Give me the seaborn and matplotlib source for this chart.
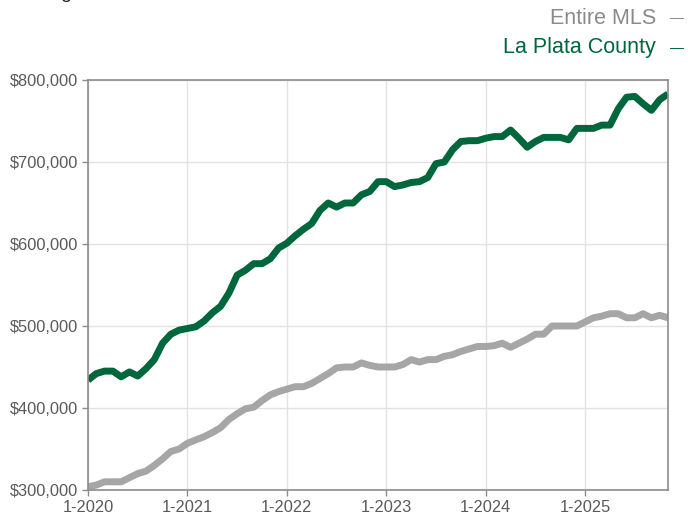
import matplotlib
matplotlib.use("Agg")
import matplotlib.pyplot as plt
import seaborn as sns
import pandas as pd
from matplotlib.ticker import FuncFormatter

# Monthly values, Jan 2020 .. Nov 2025 (in $)
months = pd.date_range("2020-01-01", periods=71, freq="MS")

la_plata = [434, 442, 445, 445, 438, 444, 439, 448, 459, 479, 490, 495,
            497, 499, 506, 516, 524, 540, 562, 568, 576, 576, 582, 595,
            601, 610, 618, 625, 641, 650, 645, 650, 650, 660, 664, 676,
            676, 670, 672, 675, 676, 681, 698, 700, 715, 725, 726, 726,
            729, 731, 731, 739, 729, 718, 725, 730, 730, 730, 727, 741,
            741, 741, 745, 745, 765, 779, 780, 771, 763, 776, 783]

entire_mls = [304, 306, 310, 310, 310, 315, 320, 323, 330, 338, 347, 350,
              357, 361, 365, 370, 376, 386, 393, 399, 401, 409, 416, 420,
              423, 426, 426, 430, 436, 442, 449, 450, 450, 455, 452, 450,
              450, 450, 453, 459, 456, 459, 459, 463, 465, 469, 472, 475,
              475, 476, 479, 474, 479, 484, 490, 490, 500, 500, 500, 500,
              505, 510, 512, 515, 515, 510, 510, 515, 510, 513, 510]

year_ticks = [0, 12, 24, 36, 48, 60]
year_labels = ["1-2020", "1-2021", "1-2022", "1-2023", "1-2024", "1-2025"]
y_ticks = [300000, 400000, 500000, 600000, 700000, 800000]

GREEN = "#00673C"
GRAY = "#A6A6A6"

df = pd.DataFrame({
    "idx": list(range(len(months))) * 2,
    "value": [v * 1000 for v in entire_mls] + [v * 1000 for v in la_plata],
    "series": ["Entire MLS"] * len(months) + ["La Plata County"] * len(months),
})

sns.set_theme(style="white")
plt.rcParams["font.family"] = ["Liberation Sans", "DejaVu Sans"]

fig = plt.figure(figsize=(6.88, 5.18), dpi=100)
ax = fig.add_axes([88 / 688, 1 - 490 / 518, 580 / 688, 410 / 518])

sns.lineplot(data=df, x="idx", y="value", hue="series",
             palette={"Entire MLS": GRAY, "La Plata County": GREEN},
             linewidth=5, ax=ax, legend=False, solid_capstyle="butt",
             solid_joinstyle="round")

ax.set_xlim(0, len(months) - 1)
ax.set_ylim(300000, 800000)
ax.set_xticks(year_ticks)
ax.set_xticklabels(year_labels)
ax.set_yticks(y_ticks)
ax.yaxis.set_major_formatter(FuncFormatter(lambda v, p: f"${v:,.0f}"))
ax.set_xlabel("")
ax.set_ylabel("")

ax.grid(True, color="#E2E2E2", linewidth=1)
ax.set_axisbelow(True)
for s in ax.spines.values():
    s.set_color("#8C8C8C")
    s.set_linewidth(1.2)
ax.tick_params(axis="both", which="major", length=4, width=1, color="#8C8C8C",
               labelsize=11.8, labelcolor="#5A5A5A", pad=3, direction="out",
               bottom=True, left=True)

# legend as right-aligned texts
fig.text(656 / 688, 1 - 18 / 518, "Entire MLS", ha="right", va="center",
         fontsize=15.5, color="#8A8A8A")
fig.text(670 / 688, 1 - 18 / 518, "—", ha="left", va="center",
         fontsize=10, color="#8A8A8A")
fig.text(656 / 688, 1 - 48 / 518, "La Plata County", ha="right", va="center",
         fontsize=15.5, color=GREEN)
fig.text(670 / 688, 1 - 48 / 518, "—", ha="left", va="center",
         fontsize=10, color=GREEN)

# clipped header line at very top (as in the reference)
fig.text(12 / 688, 1 + 2 / 518, "Rolling", ha="left", va="baseline",
         fontsize=14, color="#222222")
fig.text(140 / 688, 1 + 1 / 518, "12-Month Calculation", ha="left", va="baseline",
         fontsize=14, color="#888888")

fig.savefig("out.png", dpi=100)
